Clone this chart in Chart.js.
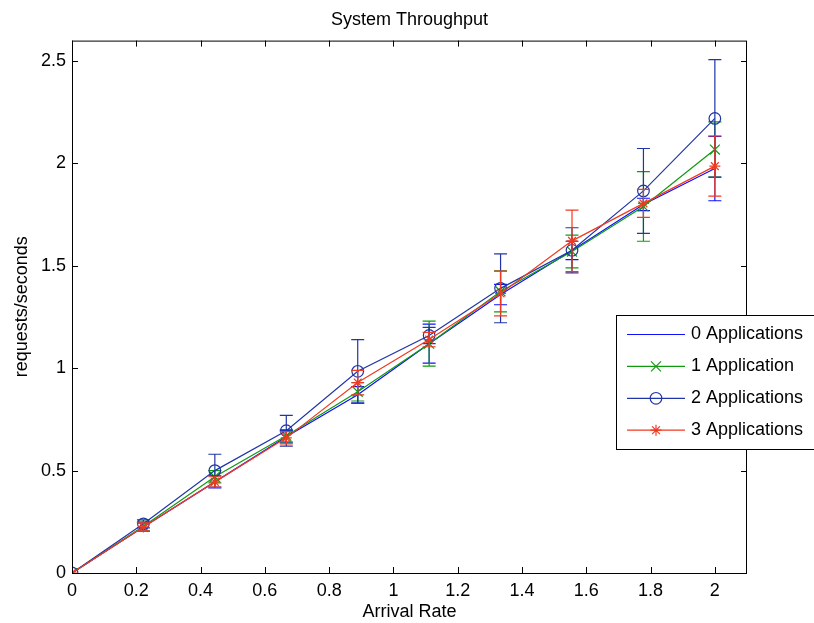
<!DOCTYPE html>
<html>
<head>
<meta charset="utf-8">
<script src="https://cdn.jsdelivr.net/npm/chart.js@4.4.1/dist/chart.umd.min.js"></script>
<style>
  body { margin: 0; background: #fff; }
  #wrap { width: 814px; height: 623px; }
</style>
</head>
<body>
<div id="wrap"><canvas id="throughputChart" width="814" height="623"></canvas></div>
<script>
// arrival rates (x) and tick labels
var arrivalRates = [0, 0.2222, 0.4444, 0.6667, 0.8889, 1.1111, 1.3333, 1.5556, 1.7778, 2.0];
var xTicks = [0, 0.2, 0.4, 0.6, 0.8, 1, 1.2, 1.4, 1.6, 1.8, 2];
var yTicks = [0, 0.5, 1, 1.5, 2, 2.5];

var seriesNames = ["0 Applications", "1 Application", "2 Applications", "3 Applications"];

// mean throughput per series
var app0 = [0, 0.225, 0.445, 0.665, 0.870, 1.120, 1.360, 1.575, 1.800, 1.975];
var app1 = [0, 0.228, 0.470, 0.670, 0.885, 1.120, 1.375, 1.570, 1.790, 2.068];
var app2 = [0, 0.240, 0.500, 0.695, 0.985, 1.160, 1.390, 1.576, 1.866, 2.220];
var app3 = [0, 0.225, 0.445, 0.660, 0.930, 1.140, 1.365, 1.622, 1.805, 1.987];

// error bar half-lengths
var app0Err = [0, 0.020, 0.030, 0.030, 0.040, 0.095, 0.050, 0.045, 0.030, 0.157];
var app1Err = [0, 0.025, 0.030, 0.030, 0.045, 0.110, 0.100, 0.080, 0.170, 0.135];
var app2Err = [0, 0.020, 0.080, 0.075, 0.155, 0.040, 0.168, 0.110, 0.207, 0.287];
var app3Err = [0, 0.020, 0.025, 0.030, 0.060, 0.035, 0.109, 0.150, 0.068, 0.147];

var means = [app0, app1, app2, app3];
var errors = [app0Err, app1Err, app2Err, app3Err];
var colors = ["#1010ff", "#109a10", "#2036a8", "#f03a20"];
var markers = [false, "crossRot", "circle", "star"];
var markerSizes = [0, 7, 5.8, 5.5];

var FONT = "'Liberation Sans', Arial, Helvetica, sans-serif";
var FSIZE = 18;

var datasets = means.map(function (vals, i) {
    return {
        label: seriesNames[i],
        data: arrivalRates.map(function (x, j) { return { x: x, y: vals[j] }; }),
        borderColor: colors[i],
        backgroundColor: colors[i],
        borderWidth: 1.2,
        pointStyle: markers[i] || "circle",
        pointRadius: markerSizes[i],
        pointBorderColor: colors[i],
        pointBackgroundColor: "rgba(0,0,0,0)",
        pointBorderWidth: 1.2,
        tension: 0,
        order: 3 - i
    };
});

// error bars, box with inward ticks, legend
var matlabFrame = {
    id: "matlabFrame",
    afterDatasetDraw: function (chart, args) {
        var i = args.index;
        var ctx = chart.ctx;
        var xs = chart.scales.x, ys = chart.scales.y;
        ctx.save();
        ctx.strokeStyle = colors[i];
        ctx.lineWidth = 1.2;
        ctx.beginPath();
        arrivalRates.forEach(function (x, j) {
            var e = errors[i][j];
            if (!e) return;
            var px = xs.getPixelForValue(x);
            var top = ys.getPixelForValue(means[i][j] + e);
            var bot = ys.getPixelForValue(means[i][j] - e);
            ctx.moveTo(px, top); ctx.lineTo(px, bot);
            ctx.moveTo(px - 6.5, top); ctx.lineTo(px + 6.5, top);
            ctx.moveTo(px - 6.5, bot); ctx.lineTo(px + 6.5, bot);
        });
        ctx.stroke();
        ctx.restore();
    },
    afterDraw: function (chart) {
        var ctx = chart.ctx;
        var a = chart.chartArea;
        var xs = chart.scales.x, ys = chart.scales.y;
        ctx.save();
        ctx.strokeStyle = "#000";
        ctx.lineWidth = 1;
        ctx.strokeRect(a.left + 0.5, a.top + 0.5, a.right - a.left - 1, a.bottom - a.top);
        ctx.beginPath();
        xTicks.forEach(function (v) {
            var px = Math.round(xs.getPixelForValue(v)) + 0.5;
            ctx.moveTo(px, a.bottom); ctx.lineTo(px, a.bottom - 6);
            ctx.moveTo(px, a.top); ctx.lineTo(px, a.top + 6);
        });
        yTicks.forEach(function (v) {
            var py = Math.round(ys.getPixelForValue(v)) + 0.5;
            ctx.moveTo(a.left, py); ctx.lineTo(a.left + 6, py);
            ctx.moveTo(a.right, py); ctx.lineTo(a.right - 6, py);
        });
        ctx.stroke();

        // legend box
        var lx = 616, ly = 315, lh = 134;
        ctx.fillStyle = "#fff";
        ctx.fillRect(lx, ly, 220, lh);
        ctx.strokeRect(lx + 0.5, ly + 0.5, 220, lh);
        ctx.font = FSIZE + "px " + FONT;
        ctx.textBaseline = "middle";
        ctx.textAlign = "left";
        seriesNames.forEach(function (name, i) {
            var ry = ly + 19.5 + i * 31.9;
            ctx.strokeStyle = colors[i];
            ctx.lineWidth = 1.2;
            ctx.beginPath();
            ctx.moveTo(627, ry); ctx.lineTo(685, ry);
            ctx.stroke();
            if (markers[i]) {
                ctx.fillStyle = "rgba(0,0,0,0)";
                Chart.helpers.drawPoint(ctx, {
                    pointStyle: markers[i], radius: markerSizes[i], rotation: 0, borderWidth: 1.2
                }, 656, ry);
            }
            ctx.fillStyle = "#000";
            ctx.fillText(name, 691, ry);
        });
        ctx.restore();
    }
};

var ctx = document.getElementById("throughputChart").getContext("2d");
var throughputChart = new Chart(ctx, {
    type: "line",
    data: { datasets: datasets },
    plugins: [matlabFrame],
    options: {
        responsive: false,
        animation: false,
        layout: { padding: { left: 0, right: 67, top: 0, bottom: 0 } },
        plugins: {
            legend: { display: false },
            tooltip: { enabled: false },
            title: {
                display: true,
                text: "System Throughput",
                fullSize: false,
                color: "#000",
                font: { family: FONT, size: FSIZE, weight: "normal" },
                padding: { top: 9, bottom: 10 }
            }
        },
        scales: {
            x: {
                type: "linear",
                min: 0,
                max: 2.1,
                afterBuildTicks: function (s) { s.ticks = xTicks.map(function (v) { return { value: v }; }); },
                afterFit: function (s) { s.height = 50; },
                grid: { display: false, drawTicks: false },
                border: { display: false },
                ticks: {
                    color: "#000",
                    font: { family: FONT, size: FSIZE },
                    padding: 7,
                    maxRotation: 0,
                    autoSkip: false,
                    callback: function (v) { return String(v); }
                },
                title: {
                    display: true,
                    text: "Arrival Rate",
                    color: "#000",
                    font: { family: FONT, size: FSIZE },
                    padding: { top: 0, bottom: 0 }
                }
            },
            y: {
                type: "linear",
                min: 0,
                max: 2.6,
                afterBuildTicks: function (s) { s.ticks = yTicks.map(function (v) { return { value: v }; }); },
                afterFit: function (s) { s.width = 72; },
                grid: { display: false, drawTicks: false },
                border: { display: false },
                ticks: {
                    color: "#000",
                    font: { family: FONT, size: FSIZE },
                    padding: 6,
                    callback: function (v) { return String(v); }
                },
                title: {
                    display: true,
                    text: "requests/seconds",
                    color: "#000",
                    font: { family: FONT, size: FSIZE },
                    padding: { top: 11, bottom: 0 }
                }
            }
        }
    }
});
</script>
</body>
</html>
